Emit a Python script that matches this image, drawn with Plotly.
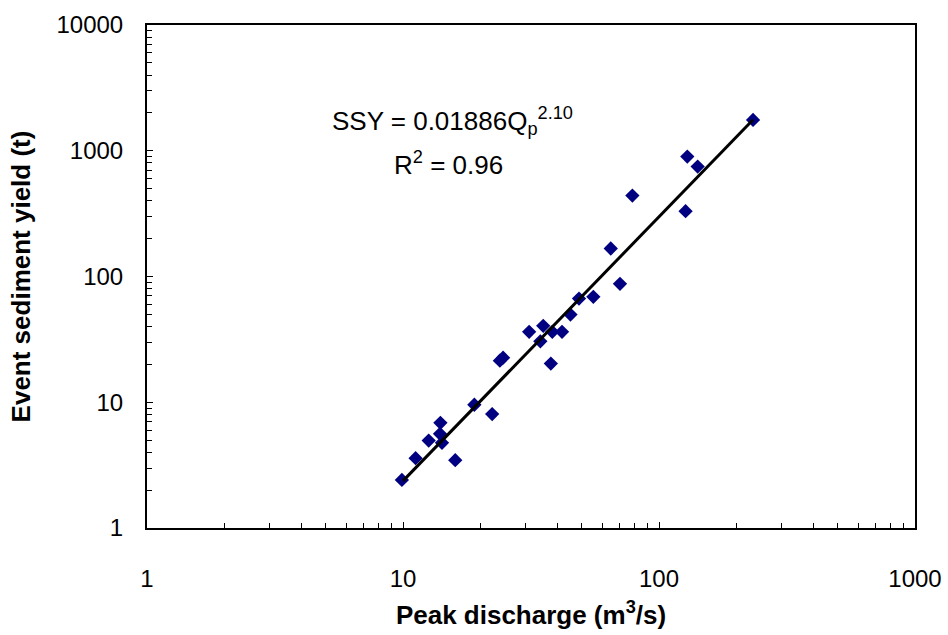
import plotly.graph_objects as go

# Observed events (peak discharge m3/s, event sediment yield t)
peak_q = [9.9, 11.2, 12.6, 14.0, 13.95, 14.2, 16.0, 19.0, 22.3, 23.9, 24.6,
          31.1, 34.4, 35.3, 37.8, 38.3, 41.8, 45.1, 48.7, 55.4, 64.8, 70.4,
          78.7, 127, 129, 141.6, 233]
ssy = [2.41, 3.59, 4.96, 6.86, 5.61, 4.76, 3.46, 9.55, 8.05, 21.4, 22.6,
       36.3, 30.5, 40.5, 20.3, 36.3, 36.3, 49.8, 66.8, 68.9, 167, 87.5,
       440, 331, 899, 748, 1760]

# Fitted power-law line end points
fit_q = [10, 233]
fit_ssy = [2.37, 1764]

x_ticks = [1, 10, 100, 1000]
y_ticks = [1, 10, 100, 1000, 10000]

FONT = "Liberation Sans, Arial, sans-serif"

fig = go.Figure()
fig.add_trace(go.Scatter(
    x=peak_q, y=ssy, mode="markers",
    marker=dict(symbol="diamond", size=11, color="#000080",
                line=dict(width=0)),
    showlegend=False))
fig.add_trace(go.Scatter(
    x=fit_q, y=fit_ssy, mode="lines",
    line=dict(color="black", width=3), showlegend=False))

axis_common = dict(
    type="log", showgrid=False, zeroline=False, automargin=False,
    showline=True, linecolor="black", linewidth=2, mirror=True,
    ticks="inside", ticklen=6, tickwidth=1, tickcolor="black",
    tickfont=dict(family=FONT, size=24, color="black"),
    minor=dict(ticks="inside", ticklen=5, tickwidth=1, tickcolor="black",
               dtick="D1", showgrid=False),
)

fig.update_xaxes(
    **axis_common,
    range=[0, 3], tickvals=x_ticks, ticktext=[str(v) for v in x_ticks],
    ticklabelstandoff=28,
    title=dict(text="<b>Peak discharge (m<sup>3</sup>/s)</b>",
               font=dict(family=FONT, size=26, color="black"), standoff=15),
)
fig.update_yaxes(
    **axis_common,
    range=[0, 4], tickvals=y_ticks, ticktext=[str(v) for v in y_ticks],
    ticklabelstandoff=17,
    title=dict(text="<b>Event sediment yield (t)</b>",
               font=dict(family=FONT, size=26, color="black"), standoff=18),
)

fig.add_annotation(
    x=0.398, y=0.809, xref="paper", yref="paper", showarrow=False,
    xanchor="center", yanchor="middle",
    text="SSY = 0.01886Q<sub>p</sub><sup>2.10</sup>",
    font=dict(family=FONT, size=26, color="black"))
fig.add_annotation(
    x=0.393, y=0.724, xref="paper", yref="paper", showarrow=False,
    xanchor="center", yanchor="middle",
    text="R<sup>2</sup> = 0.96",
    font=dict(family=FONT, size=26, color="black"))

fig.update_layout(
    width=948, height=635,
    margin=dict(l=147, r=33, t=25, b=107),
    plot_bgcolor="white", paper_bgcolor="white",
    font=dict(family=FONT, size=24, color="black"),
)

fig.write_html("out.html")
